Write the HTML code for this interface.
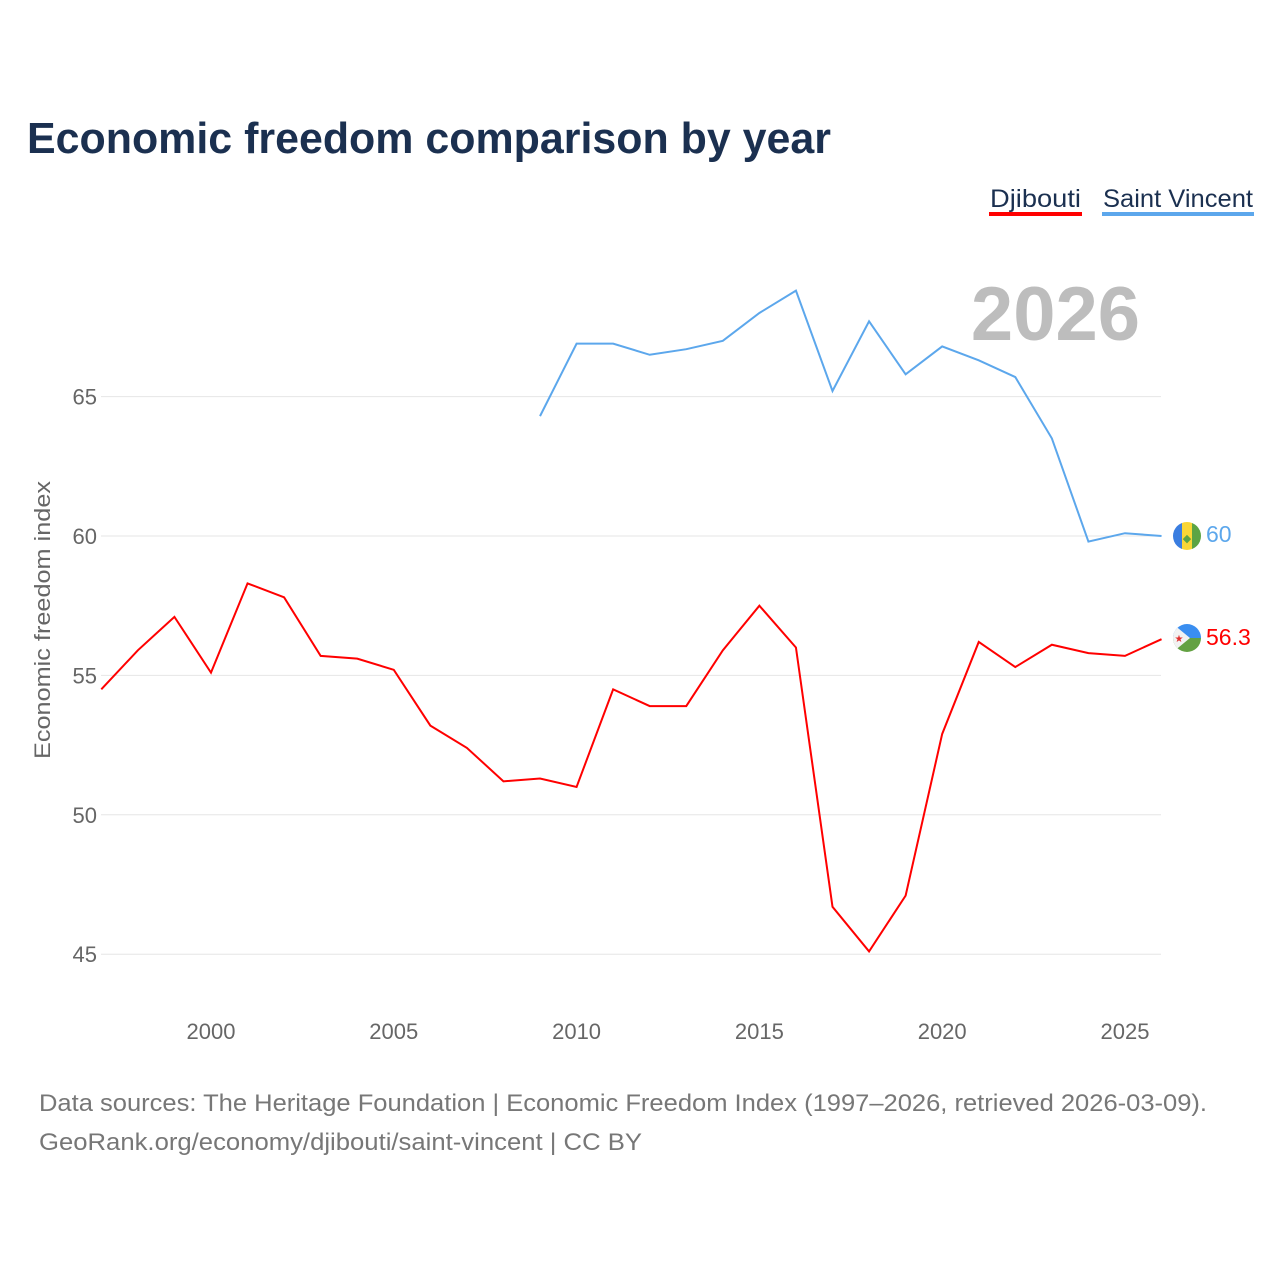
<!DOCTYPE html>
<html><head><meta charset="utf-8"><style>
body{margin:0;background:#fff;font-family:"Liberation Sans",sans-serif}
#wrap{position:relative;width:1280px;height:1280px;overflow:hidden}
</style></head><body>
<div id="wrap">
<svg id="svg" width="1280" height="1280">
<text x="27" y="153" font-size="44" font-weight="bold" fill="#1b3050" textLength="804" lengthAdjust="spacingAndGlyphs">Economic freedom comparison by year</text>
<g><text x="990" y="207" font-size="25" fill="#1b3050" textLength="91" lengthAdjust="spacingAndGlyphs">Djibouti</text><rect x="989" y="212" width="93" height="4" fill="#ff0000"/></g>
<g><text x="1103" y="207" font-size="25" fill="#1b3050" textLength="150" lengthAdjust="spacingAndGlyphs">Saint Vincent</text><rect x="1102" y="212" width="152" height="4" fill="#5ca7ec"/></g>
<text x="1140" y="340" text-anchor="end" font-size="76" font-weight="bold" fill="#bdbdbd">2026</text>
<text transform="translate(50,620) rotate(-90)" text-anchor="middle" font-size="22" fill="#666" textLength="278" lengthAdjust="spacingAndGlyphs">Economic freedom index</text>
<g id="grid"></g><g id="lines"></g>
<g><clipPath id="c1"><circle cx="1187" cy="536" r="14"/></clipPath><g clip-path="url(#c1)"><rect x="1173" y="522" width="9" height="28" fill="#3a7de0"/><rect x="1182" y="522" width="10" height="28" fill="#f9d636"/><rect x="1192" y="522" width="9" height="28" fill="#5ca444"/><text x="1187" y="542" text-anchor="middle" font-size="11" fill="#5ca444">◆</text></g></g>
<text x="1206" y="542" font-size="23" fill="#5ca7ec">60</text>
<g><clipPath id="c2"><circle cx="1187" cy="638" r="14"/></clipPath><g clip-path="url(#c2)"><rect x="1173" y="624" width="28" height="14" fill="#3a8ef0"/><rect x="1173" y="638" width="28" height="14" fill="#63a142"/><polygon points="1173,624 1190,638 1173,652" fill="#f2f2f2"/><text x="1179" y="642" text-anchor="middle" font-size="10" fill="#e03030">★</text></g></g>
<text x="1206" y="645" font-size="23" fill="#ff0000">56.3</text>
<text x="39" y="1111" font-size="24" fill="#777" textLength="1168" lengthAdjust="spacingAndGlyphs">Data sources: The Heritage Foundation | Economic Freedom Index (1997–2026, retrieved 2026-03-09).</text>
<text x="39" y="1150" font-size="24" fill="#777" textLength="603" lengthAdjust="spacingAndGlyphs">GeoRank.org/economy/djibouti/saint-vincent | CC BY</text>
</svg></div>
<script>
const years=[1997,1998,1999,2000,2001,2002,2003,2004,2005,2006,2007,2008,2009,2010,2011,2012,2013,2014,2015,2016,2017,2018,2019,2020,2021,2022,2023,2024,2025,2026];
const djibouti=[54.5,55.9,57.1,55.1,58.3,57.8,55.7,55.6,55.2,53.2,52.4,51.2,51.3,51.0,54.5,53.9,53.9,55.9,57.5,56.0,46.7,45.1,47.1,52.9,56.2,55.3,56.1,55.8,55.7,56.3];
const svYears=[2009,2010,2011,2012,2013,2014,2015,2016,2017,2018,2019,2020,2021,2022,2023,2024,2025,2026];
const saintVincent=[64.3,66.9,66.9,66.5,66.7,67.0,68.0,68.8,65.2,67.7,65.8,66.8,66.3,65.7,63.5,59.8,60.1,60.0];
const yTicks=[45,50,55,60,65];
const xTicks=[2000,2005,2010,2015,2020,2025];
const NS='http://www.w3.org/2000/svg';
const x=v=>101.3+(v-1997)*36.56;
const y=v=>536-(v-60)*27.88;
const grid=document.getElementById('grid'),lines=document.getElementById('lines');
function mk(tag,attrs,parent){const e=document.createElementNS(NS,tag);for(const k in attrs)e.setAttribute(k,attrs[k]);parent.appendChild(e);return e;}
yTicks.forEach(t=>{
 const l=mk('line',{x1:101,x2:1161,y1:y(t),y2:y(t),stroke:'#e6e6e6'},grid);
 
 
 const tx=mk('text',{x:97,y:y(t)+8,'text-anchor':'end','font-size':22,fill:'#666'},grid);tx.textContent=t;
 
 
});
xTicks.forEach(t=>{
 const tx=mk('text',{x:x(t),y:1039,'text-anchor':'middle','font-size':22,fill:'#666'},grid);tx.textContent=t;
 
 
});
const p1=mk('polyline',{points:years.map((yr,i)=>x(yr)+','+y(djibouti[i])).join(' '),fill:'none',stroke:'#ff0000','stroke-width':2},lines);


const p2=mk('polyline',{points:svYears.map((yr,i)=>x(yr)+','+y(saintVincent[i])).join(' '),fill:'none',stroke:'#5ca7ec','stroke-width':2},lines);


</script>
</body></html>
